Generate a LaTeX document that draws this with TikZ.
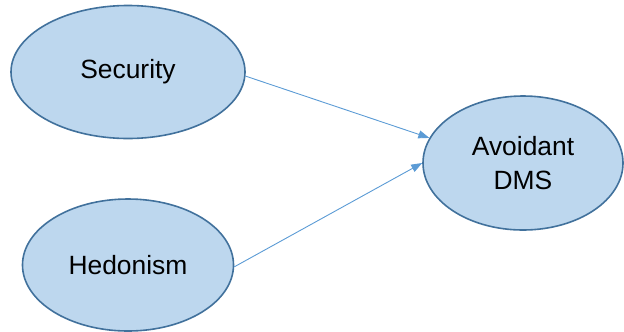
\documentclass[tikz,border=0pt]{standalone}
\usepackage{fontspec}
\setmainfont{Liberation Sans}
\usetikzlibrary{shapes.geometric,arrows.meta}
\definecolor{bubblefill}{HTML}{BDD7EE}
\definecolor{bubbleline}{HTML}{41719C}
\definecolor{linkline}{HTML}{5B9BD5}
\begin{document}
\begin{tikzpicture}[x=1bp,y=-1bp,
  bubble/.style={ellipse,draw=bubbleline,fill=bubblefill,line width=1.6bp,
    inner sep=0pt,align=center,font=\fontsize{26.5}{34}\selectfont},
  link/.style={draw=linkline,line width=0.9bp,-{Triangle[length=11bp,width=8bp]}}]
  \useasboundingbox (0,0) rectangle (624,331);
  \node[bubble,minimum width=234bp,minimum height=133bp] (sec) at (128,72) {Security};
  \node[bubble,minimum width=211bp,minimum height=132bp] (hed) at (128,265) {Hedonism};
  \node[bubble,minimum width=200bp,minimum height=134bp] (avd) at (523,163) {Avoidant\\DMS};
  \draw[link] (sec.-2) -- (avd.165);
  \draw[link] (hed.-1) -- (avd.180);
\end{tikzpicture}
\end{document}
